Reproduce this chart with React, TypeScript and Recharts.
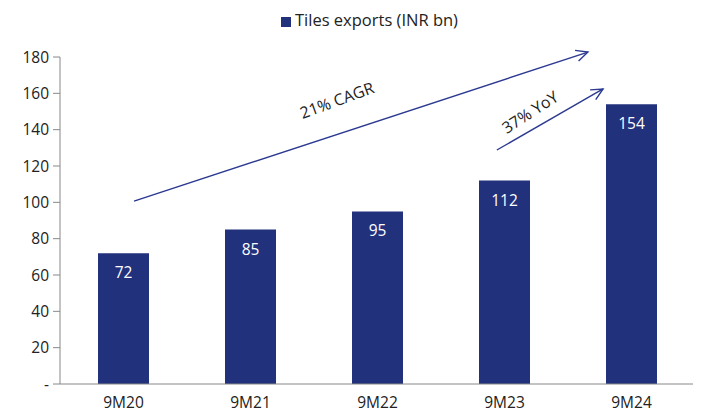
import { BarChart, Bar, XAxis, YAxis, Legend, LabelList, ReferenceLine, ReferenceDot } from "recharts";

const periods = ["9M20", "9M21", "9M22", "9M23", "9M24"];
const exports = [72, 85, 95, 112, 154];
const yTicks = [0, 20, 40, 60, 80, 100, 120, 140, 160, 180];
const bandEdges = [-0.5, 0.5, 1.5, 2.5, 3.5, 4.5];

// annotation arrows: [category index, value]
const arrowStart = [[0.083, 100.7], [2.94, 128.8]];
const arrowEnd = [[3.657, 182.7], [3.776, 162.4]];
const noteText = ["21% CAGR", "37% YoY"];
const notePos = [[1.68, 156.3], [3.2, 149.7]];
const noteAngle = [-20, -33];

const data = periods.map((p, i) => ({ period: p, value: exports[i], idx: i }));

const FONT = "'Open Sans', sans-serif";
const BAR = "#22317c";

function Arrow(props: any) {
  const { x1, y1, x2, y2 } = props;
  const a = Math.atan2(y2 - y1, x2 - x1);
  const len = 13;
  const spread = 0.45;
  const hx1 = x2 - len * Math.cos(a - spread);
  const hy1 = y2 - len * Math.sin(a - spread);
  const hx2 = x2 - len * Math.cos(a + spread);
  const hy2 = y2 - len * Math.sin(a + spread);
  return (
    <g stroke="#2b3990" strokeWidth={1.4} fill="none">
      <line x1={x1} y1={y1} x2={x2} y2={y2} />
      <polyline points={`${hx1},${hy1} ${x2},${y2} ${hx2},${hy2}`} />
    </g>
  );
}

export default function App() {
  return (
    <div style={{ fontFamily: FONT }}>
      <BarChart width={693} height={402} data={data} margin={{ top: 24, right: 6, left: 0, bottom: 0 }}>
        <Legend
          verticalAlign="top"
          align="left"
          height={25}
          iconType="square"
          iconSize={10}
          wrapperStyle={{ top: 0, left: 273, width: 240, fontSize: 16.5, color: "#222" }}
          formatter={() => <span style={{ color: "#222" }}>Tiles exports (INR bn)</span>}
        />
        <XAxis
          type="number"
          dataKey="idx"
          domain={[-0.5, 4.5]}
          allowDataOverflow
          ticks={bandEdges}
          interval={0}
          tick={false}
          height={1}
          stroke="#888"
          tickSize={6}
        />
        <XAxis
          xAxisId="c"
          dataKey="period"
          axisLine={false}
          tickLine={false}
          height={25}
          tickSize={6}
          tickMargin={6}
          tick={{ fontSize: 15.5, fill: "#222", fontFamily: FONT }}
        />
        <YAxis
          domain={[0, 180]}
          ticks={yTicks}
          width={52}
          stroke="#888"
          tickSize={7}
          tickMargin={4}
          interval={0}
          tickFormatter={(v: number) => (v === 0 ? "-" : String(v))}
          tick={{ fontSize: 15.5, fill: "#222", fontFamily: FONT }}
        />
        <Bar xAxisId="c" dataKey="value" name="Tiles exports (INR bn)" fill={BAR} barSize={51} isAnimationActive={false}>
          <LabelList dataKey="value" position="insideTop" offset={14} fill="#fff" fontSize={15.5} fontFamily={FONT} />
        </Bar>
        {arrowStart.map((s, i) => (
          <ReferenceLine
            key={"a" + i}
            ifOverflow="visible"
            segment={[{ x: s[0], y: s[1] }, { x: arrowEnd[i][0], y: arrowEnd[i][1] }]}
            shape={(p: any) => <Arrow {...p} />}
          />
        ))}
        {notePos.map((p, i) => (
          <ReferenceDot
            key={"t" + i}
            x={p[0]}
            y={p[1]}
            ifOverflow="visible"
            shape={(d: any) => (
              <text
                x={d.cx}
                y={d.cy}
                textAnchor="middle"
                dominantBaseline="central"
                fontSize={16}
                fontFamily={FONT}
                fill="#222"
                transform={`rotate(${noteAngle[i]} ${d.cx} ${d.cy})`}
              >
                {noteText[i]}
              </text>
            )}
          />
        ))}
      </BarChart>
    </div>
  );
}
